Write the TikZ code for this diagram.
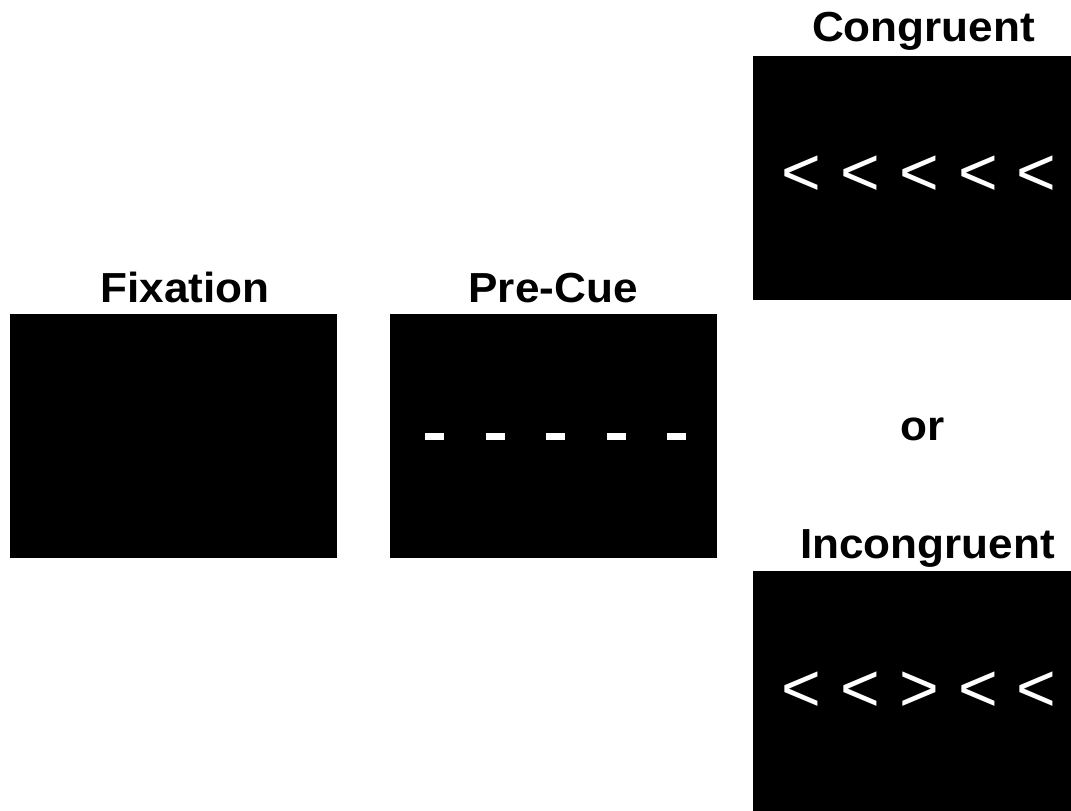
\documentclass[tikz,border=0pt]{standalone}
\usepackage{fontspec}
\setmainfont{Liberation Sans}
\begin{document}
\begin{tikzpicture}[x=1pt,y=-1pt,
  screen/.style={fill=black,draw=none,inner sep=0pt,minimum width=327pt,minimum height=244pt,anchor=north west},
  title/.style={anchor=base,inner sep=0pt,font=\fontsize{42}{42}\selectfont\bfseries},
  flank/.style={anchor=base,inner sep=0pt,text=white,font=\fontsize{68}{68}\selectfont},
  cuebar/.style={fill=white,draw=none,inner sep=0pt,minimum width=19pt,minimum height=7pt}]
\useasboundingbox (0,0) rectangle (1071,811);
\clip (0,0) rectangle (1071,811);

% stimulus screens
\node[screen] (fix) at (10,314) {};
\node[screen] (pre) at (390,314) {};
\node[screen] (con) at (753,56) {};
\node[screen] (inc) at (753,571) {};

% titles
\node[title] (tfix) at (185,302) {\scalebox{1.05}[1]{Fixation}};
\node[title] (tpre) at (553,302) {\scalebox{1.05}[1]{Pre-Cue}};
\node[title] (tcon) at (923.5,41) {\scalebox{1.05}[1]{Congruent}};
\node[title] (tor) at (922.5,440) {\scalebox{1.05}[1]{or}};
\node[title] (tinc) at (927.5,558) {\scalebox{1.05}[1]{Incongruent}};

% pre-cue bars
\foreach \i/\x in {1/434.5,2/495.5,3/555.5,4/616.5,5/676.5}
  \node[cuebar] (bar\i) at (\x,436.5) {};

% congruent flankers
\foreach \i/\x in {1/801.5,2/860.5,3/919.5,4/978.5,5/1036.5}
  \node[flank] (c\i) at (\x,195) {<};

% incongruent flankers
\foreach \i/\x/\s in {1/801.5/<,2/860.5/<,3/919.5/>,4/978.5/<,5/1036.5/<}
  \node[flank] (n\i) at (\x,711) {\s};
\end{tikzpicture}
\end{document}
